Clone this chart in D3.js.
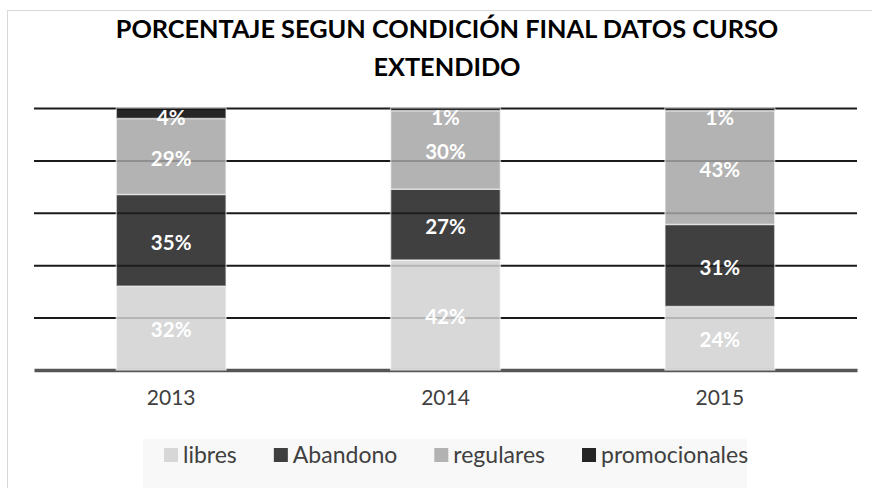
<!DOCTYPE html>
<html>
<head>
<meta charset="utf-8">
<script src="https://cdn.jsdelivr.net/npm/d3@7"></script>
<style>
  body { margin: 0; background: #fff; }
  svg { font-family: Lato, "Open Sans", sans-serif; }
</style>
</head>
<body>
<svg id="chart" width="872" height="488"></svg>
<script>
const years = ["2013", "2014", "2015"];
const seriesNames = ["libres", "Abandono", "regulares", "promocionales"];
const libres = [32, 42, 24];
const abandono = [35, 27, 31];
const regulares = [29, 30, 43];
const promocionales = [4, 1, 1];
const yTicks = [0, 0.2, 0.4, 0.6, 0.8, 1];
const colors = ["#d1d1d1", "#1e1e1e", "#a6a6a6", "#000000"];
const titleLines = ["PORCENTAJE SEGUN CONDICIÓN FINAL DATOS CURSO", "EXTENDIDO"];

const margin = { left: 34, right: 15, top: 108, bottom: 118 };
const svg = d3.select("#chart");
const width = +svg.attr("width") - margin.left - margin.right;
const height = +svg.attr("height") - margin.top - margin.bottom;

// chart frame (only top and left edges are visible in the picture)
svg.append("rect")
  .attr("x", 7.5).attr("y", 10.5)
  .attr("width", 900).attr("height", 500)
  .attr("fill", "#fff")
  .attr("stroke", "#d9d9d9");

svg.append("g")
  .selectAll("text")
  .data(titleLines)
  .join("text")
  .attr("x", 447)
  .attr("y", (d, i) => 38 + i * 38)
  .attr("text-anchor", "middle")
  .attr("font-size", 25.3)
  .attr("font-weight", "bold")
  .attr("fill", "#000")
  .text(d => d);

const table = years.map((y, i) => ({
  year: y,
  libres: libres[i],
  Abandono: abandono[i],
  regulares: regulares[i],
  promocionales: promocionales[i]
}));

const stacked = d3.stack()
  .keys(seriesNames)
  .offset(d3.stackOffsetExpand)(table);

const chart = svg.append("g")
  .attr("transform", "translate(" + margin.left + "," + margin.top + ")");

const xScale = d3.scaleBand()
  .domain(years)
  .range([0, width])
  .paddingInner(0.6)
  .paddingOuter(0.3);

const yScale = d3.scaleLinear()
  .domain([0, 1])
  .range([height, 0]);

// gridlines
chart.append("g")
  .call(d3.axisLeft(yScale).tickValues(yTicks.slice(1)).tickSize(-width).tickFormat(""))
  .call(g => g.select(".domain").remove())
  .call(g => g.selectAll(".tick line").attr("stroke", "#1a1a1a").attr("stroke-width", 2));

// baseline axis
const xAxis = chart.append("g")
  .attr("transform", "translate(0," + height + ")")
  .call(d3.axisBottom(xScale).tickSize(0).tickPadding(20));
xAxis.select(".domain").attr("stroke", "#555").attr("stroke-width", 3.5);
xAxis.selectAll("text")
  .attr("font-size", 21)
  .attr("fill", "#404040")
  .attr("font-family", "Lato, sans-serif");

const layers = chart.selectAll(".layer")
  .data(stacked)
  .join("g")
  .attr("class", "layer")
  .attr("fill", (d, i) => colors[i]);

layers.selectAll("rect")
  .data(d => d)
  .join("rect")
  .attr("x", d => xScale(d.data.year))
  .attr("y", d => yScale(d[1]))
  .attr("width", xScale.bandwidth())
  .attr("height", d => yScale(d[0]) - yScale(d[1]))
  .attr("fill-opacity", 0.85)
  .attr("stroke", "#fff")
  .attr("stroke-opacity", 0.55)
  .attr("stroke-width", 1.5);

layers.selectAll("text")
  .data((d, i) => d.map(p => ({ p: p, key: d.key })))
  .join("text")
  .attr("x", d => xScale(d.p.data.year) + xScale.bandwidth() / 2)
  .attr("y", d => Math.max((yScale(d.p[0]) + yScale(d.p[1])) / 2, yScale(1) + 8))
  .attr("dy", "0.45em")
  .attr("text-anchor", "middle")
  .attr("font-size", 20.5)
  .attr("font-weight", "bold")
  .attr("fill", "#fff")
  .text(d => d.p.data[d.key] + "%");

// legend
const legend = svg.append("g");
legend.append("rect")
  .attr("x", 143).attr("y", 439)
  .attr("width", 604).attr("height", 49)
  .attr("fill", "#f8f8f8");

let lx = 164;
seriesNames.forEach((name, i) => {
  legend.append("rect")
    .attr("x", lx).attr("y", 448)
    .attr("width", 14).attr("height", 14)
    .attr("fill", colors[i])
    .attr("fill-opacity", 0.85);
  const t = legend.append("text")
    .attr("x", lx + 19).attr("y", 463)
    .attr("font-size", 23)
    .attr("fill", "#404040")
    .text(name);
  lx += 19 + t.node().getComputedTextLength() + 37;
});
</script>
</body>
</html>
